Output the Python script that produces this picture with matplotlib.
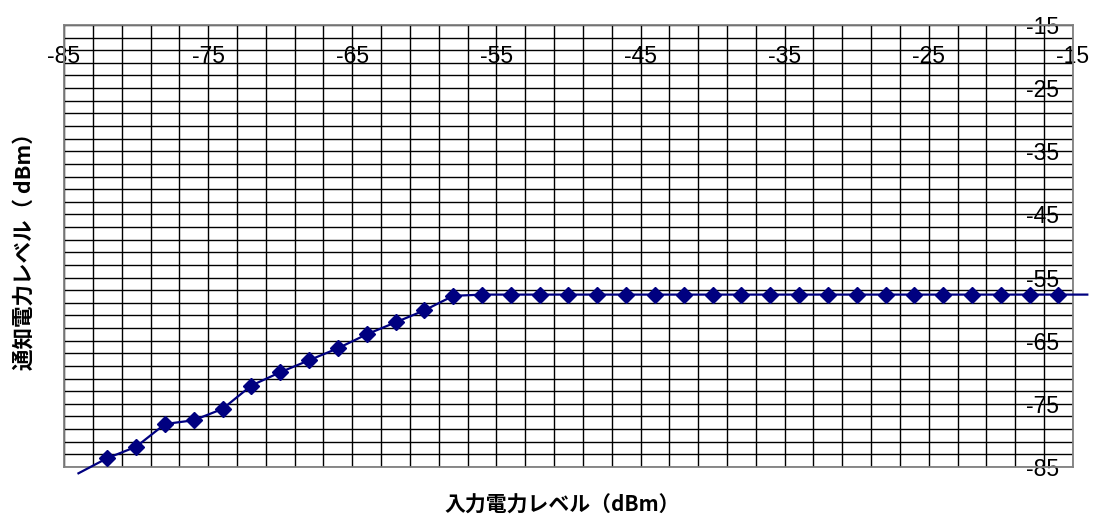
import numpy as np
import matplotlib
matplotlib.use("Agg")
import matplotlib.pyplot as plt

plt.rcParams['font.family'] = ['Liberation Sans', 'DejaVu Sans']

# input level (dBm) and reported level (dBm)
input_level = [-84, -82, -80, -78, -76, -74, -72, -70, -68, -66, -64, -62,
               -60, -58, -56, -54, -52, -50, -48, -46, -44, -42, -40, -38,
               -36, -34, -32, -30, -28, -26, -24, -22, -20, -18, -16, -14]
notify_level = [-86.0, -83.6, -81.8, -78.2, -77.6, -75.8, -72.1, -70.0,
                -68.1, -66.2, -64.0, -62.1, -60.2, -57.9, -57.7, -57.7,
                -57.7, -57.7, -57.7, -57.7, -57.7, -57.7, -57.7, -57.7,
                -57.7, -57.7, -57.7, -57.7, -57.7, -57.7, -57.7, -57.7,
                -57.7, -57.7, -57.7, -57.7]

major_ticks = [-85, -75, -65, -55, -45, -35, -25, -15]
x_title = "入力電力レベル（dBm）"
y_title = "通知電力レベル（ dBm）"


def drawLevelChart():
    fig = plt.figure(figsize=(10.93, 5.16), dpi=100)
    ax = fig.add_axes([0.0586, 0.095, 0.923, 0.8566])

    lo, hi = -85, -15
    ax.set_xlim(lo, hi)
    ax.set_ylim(lo, hi)

    # 2 dB grid both ways
    minor = np.arange(lo, hi + 1, 2)
    ax.set_xticks(minor, minor=True)
    ax.set_yticks(minor, minor=True)
    ax.set_xticks(major_ticks)
    ax.set_yticks(major_ticks)
    ax.set_xticklabels([str(v) for v in major_ticks])
    ax.set_yticklabels([str(v) for v in major_ticks])
    ax.grid(which='both', color='black', linewidth=1.0)
    ax.set_axisbelow(True)

    x = np.array(input_level, dtype=float)
    y = np.array(notify_level, dtype=float)

    # line runs past the frame, markers only inside it
    ax.plot(x, y, color='#000080', linewidth=1.6, clip_on=False, zorder=3)
    inside = (x >= lo) & (x <= hi) & (y >= lo) & (y <= hi)
    ax.plot(x[inside], y[inside], linestyle='none', marker='D',
            markersize=8.5, color='#000080', zorder=4)

    # labels sit inside the plot area
    ax.xaxis.set_ticks_position('top')
    ax.yaxis.set_ticks_position('right')
    ax.tick_params(axis='both', which='both', length=0)
    ax.tick_params(axis='x', labelsize=16.5, pad=-31)
    ax.tick_params(axis='y', labelsize=16.5, pad=-34)

    for s in ax.spines.values():
        s.set_color('#808080')
        s.set_linewidth(1.3)

    fig.text(0.514, 0.0, x_title, ha='center', va='bottom', fontsize=15,
             fontweight='bold', family=['Noto Sans CJK JP', 'DejaVu Sans'])
    fig.text(0.023, 0.523, y_title, ha='center', va='center', rotation=90,
             fontsize=15.5, fontweight='bold',
             family=['Noto Sans CJK JP', 'DejaVu Sans'])

    fig.savefig("out.png", dpi=100)


drawLevelChart()
